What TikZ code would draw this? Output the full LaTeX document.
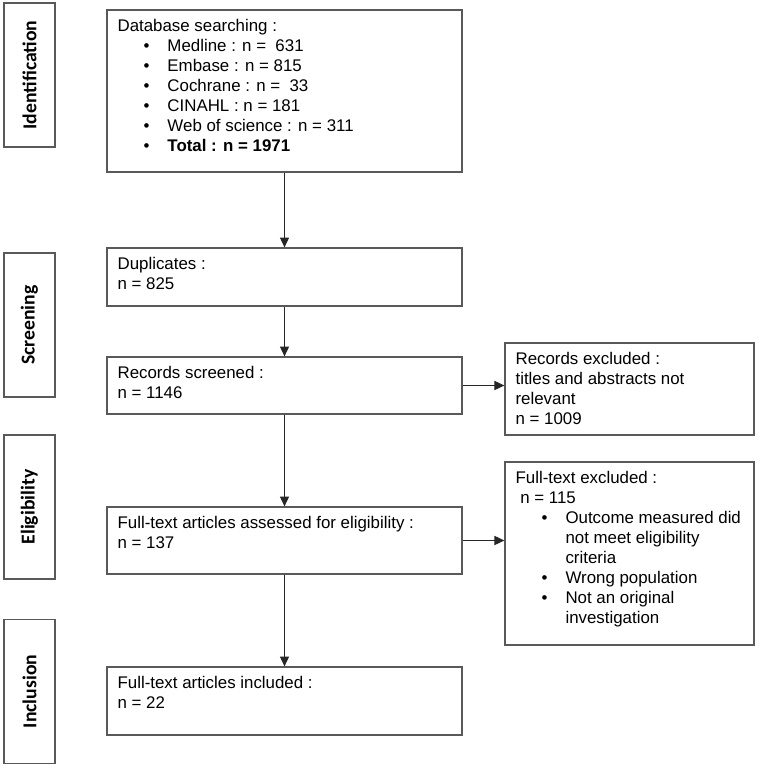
\documentclass[tikz,border=0pt]{standalone}
\usepackage{fontspec}
\setmainfont{Liberation Sans}
\newfontfamily\phasefont{Carlito}
\usetikzlibrary{arrows.meta}
\newcommand{\bul}{\hspace*{18.5pt}\makebox[17pt][l]{\textbullet}}
\newcommand{\cont}{\hspace*{35.5pt}}

\begin{document}
\begin{tikzpicture}
      [
        x = 0.025cm, y = -0.025cm,
        box/.style = {draw=black!65, line width=0.9pt, fill=white},
        mainbox/.style = {box, minimum width=8.875cm},
        sidebox/.style = {box, minimum width=6.225cm},
        phasebox/.style = {box, minimum width=1.275cm, minimum height=3.6cm,
            font=\phasefont\bfseries\fontsize{14}{16}\selectfont},
        txt/.style = {anchor=north west, align=left, inner xsep=7.8pt, inner ysep=7pt,
            font=\fontsize{12}{14.2}\selectfont},
        flow/.style = {draw=black!85, line width=0.7pt, -{Triangle[length=7pt,width=6.5pt]}},
      ]

      \useasboundingbox (0,0) rectangle (762,768);

      \node[phasebox] (ident) at (29.5,75) {\rotatebox{90}{Identification}};
      \node[phasebox] (screen) at (29.5,325) {\rotatebox{90}{Screening}};
      \node[phasebox] (elig) at (29.5,507) {\rotatebox{90}{Eligibility}};
      \node[phasebox] (incl) at (29.5,691.5) {\rotatebox{90}{Inclusion}};

      \node[mainbox, minimum height=4.05cm] (search) at (284.5,91) {};
      \node[mainbox, minimum height=1.45cm] (dup) at (284.5,277) {};
      \node[mainbox, minimum height=1.425cm] (screened) at (284.5,385.5) {};
      \node[mainbox, minimum height=1.675cm] (assessed) at (284.5,540.5) {};
      \node[mainbox, minimum height=1.7cm] (included) at (284.5,701) {};

      \node[sidebox, minimum height=2.3cm] (excl1) at (629.5,389) {};
      \node[sidebox, minimum height=4.575cm] (excl2) at (629.5,553.5) {};

      \node[txt] (search-t) at (search.north west) {Database searching :\\
        \bul Medline : n = \ 631\\
        \bul Embase : n = 815\\
        \bul Cochrane : n = \ 33\\
        \bul CINAHL : n = 181\\
        \bul Web of science : n = 311\\
        \bul\textbf{Total : n = 1971}};
      \node[txt] (dup-t) at (dup.north west) {Duplicates :\\n = 825};
      \node[txt] (screened-t) at (screened.north west) {Records screened :\\n = 1146};
      \node[txt] (assessed-t) at (assessed.north west) {Full-text articles assessed for eligibility :\\n = 137};
      \node[txt] (included-t) at (included.north west) {Full-text articles included :\\n = 22};

      \node[txt] (excl1-t) at (excl1.north west) {Records excluded :\\
        titles and abstracts not\\
        relevant\\
        n = 1009};
      \node[txt] (excl2-t) at (excl2.north west) {Full-text excluded :\\
        \ n = 115\\
        \bul Outcome measured did\\
        \cont not meet eligibility\\
        \cont criteria\\
        \bul Wrong population\\
        \bul Not an original\\
        \cont investigation};

      \draw[flow] (search) -- (dup);
      \draw[flow] (dup) -- (screened);
      \draw[flow] (screened) -- (assessed);
      \draw[flow] (assessed) -- (included);
      \draw[flow] (screened.east) -- (screened.east -| excl1.west);
      \draw[flow] (assessed.east) -- (assessed.east -| excl2.west);

    \end{tikzpicture}
\end{document}
